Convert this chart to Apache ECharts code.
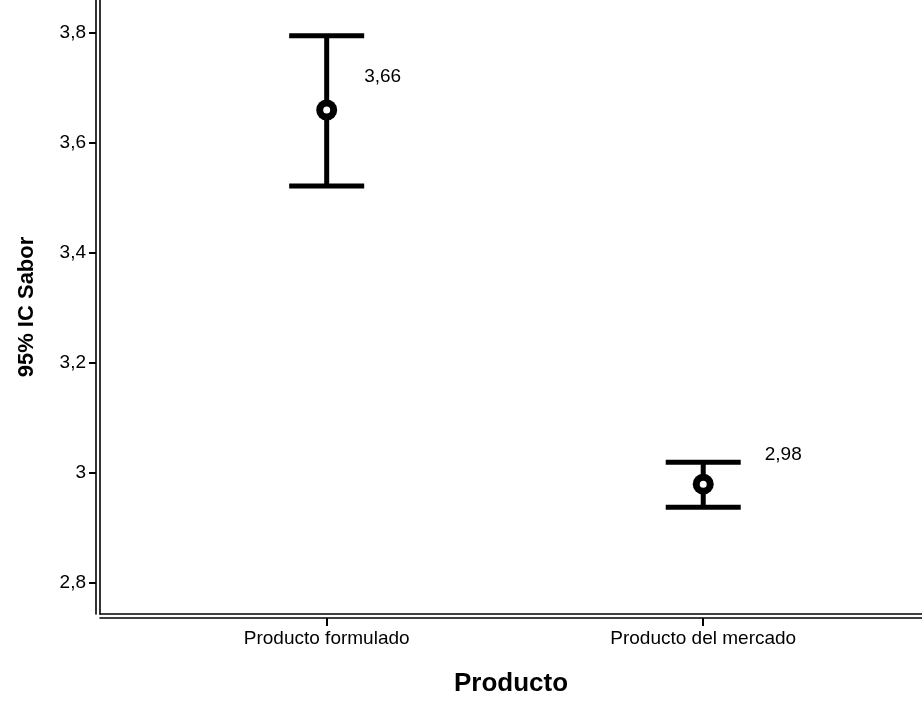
<!DOCTYPE html>
<html><head><meta charset="utf-8">
<script src="https://cdn.jsdelivr.net/npm/echarts@6/dist/echarts.min.js"></script>
<style>html,body{margin:0;padding:0;background:#fff}#c{width:922px;height:702px}</style>
</head><body><div id="c"></div>
<script>
var categories = ['Producto formulado', 'Producto del mercado'];
var means = [3.66, 2.98];
var upper = [3.795, 3.020];
var lower = [3.522, 2.938];
var yTicks = [2.8, 3.0, 3.2, 3.4, 3.6, 3.8];
var xPositions = [1, 2];

var labelOffsets = [[56, -33], [80, -29]];
function fmt(v, d) { return (d == null ? String(+v.toFixed(2)) : v.toFixed(d)).replace('.', ','); }

var font = '"Liberation Sans", Arial, sans-serif';
var X_MIN = 0.398, X_MAX = 2.581, Y_MIN = 2.744, Y_MAX = 3.86;
var chart = echarts.init(document.getElementById('c'), null, {renderer: 'canvas'});
var errData = xPositions.map(function (x, i) { return [x, lower[i], upper[i]]; });
var meanData = xPositions.map(function (x, i) {
  return {value: [x, means[i]], label: {offset: labelOffsets[i]}};
});
var lineOnly = {color: '#000', width: 1.6};
chart.setOption({
  animation: false,
  grid: {left: 100, right: 0, top: 0, bottom: 88},
  xAxis: [{
    type: 'value', min: X_MIN, max: X_MAX,
    axisLine: {lineStyle: lineOnly},
    axisTick: {show: false}, axisLabel: {show: false}, splitLine: {show: false},
    name: 'Producto', nameLocation: 'middle', nameGap: 57,
    nameTextStyle: {fontSize: 26, fontWeight: 'bold', color: '#000', fontFamily: font}
  }, {
    type: 'value', min: X_MIN, max: X_MAX, position: 'bottom', offset: 4,
    axisLine: {lineStyle: lineOnly},
    axisTick: {show: true, customValues: xPositions, length: 8, lineStyle: {color: '#000', width: 2}},
    axisLabel: {customValues: xPositions, color: '#000', fontSize: 19, fontFamily: font, margin: 11,
      formatter: function (v) { return categories[Math.round(v) - 1] || ''; }},
    splitLine: {show: false}
  }],
  yAxis: [{
    type: 'value', min: Y_MIN, max: Y_MAX,
    axisLine: {show: true, lineStyle: lineOnly},
    axisTick: {show: false}, axisLabel: {show: false}, splitLine: {show: false},
    name: '95% IC Sabor', nameLocation: 'middle', nameGap: 62,
    nameTextStyle: {fontSize: 22, fontWeight: 'bold', color: '#000', fontFamily: font}
  }, {
    type: 'value', min: Y_MIN, max: Y_MAX, position: 'left', offset: 4,
    axisLine: {show: true, lineStyle: lineOnly},
    axisTick: {show: true, customValues: yTicks, length: 7, lineStyle: {color: '#000', width: 2}},
    axisLabel: {customValues: yTicks, color: '#000', fontSize: 19, fontFamily: font, margin: 10,
      formatter: function (v) { return fmt(v); }},
    splitLine: {show: false}
  }],
  series: [
    {
      type: 'custom', data: errData, xAxisIndex: 0, yAxisIndex: 0,
      renderItem: function (params, api) {
        var x = api.value(0);
        var lo = api.coord([x, api.value(1)]);
        var hi = api.coord([x, api.value(2)]);
        var hw = 37.5;
        var st = {stroke: '#000', lineWidth: 5};
        return {type: 'group', children: [
          {type: 'line', shape: {x1: lo[0], y1: lo[1], x2: hi[0], y2: hi[1]}, style: {stroke: '#000', lineWidth: 5}},
          {type: 'line', shape: {x1: hi[0] - hw, y1: hi[1], x2: hi[0] + hw, y2: hi[1]}, style: st},
          {type: 'line', shape: {x1: lo[0] - hw, y1: lo[1], x2: lo[0] + hw, y2: lo[1]}, style: st}
        ]};
      }
    },
    {
      type: 'scatter', data: meanData, xAxisIndex: 0, yAxisIndex: 0, symbol: 'circle', symbolSize: 21,
      itemStyle: {color: '#000', opacity: 1},
      label: {show: true, position: 'inside', color: '#000', fontSize: 19, fontFamily: font,
        formatter: function (p) { return fmt(p.value[1], 2); }},
      z: 5
    },
    {
      type: 'scatter', data: meanData.map(function (d) { return d.value; }), xAxisIndex: 0, yAxisIndex: 0,
      symbol: 'emptyCircle', symbolSize: 9,
      itemStyle: {color: '#000', borderColor: '#fff', borderWidth: 1.8, opacity: 1},
      silent: true, z: 6
    }
  ]
});
</script></body></html>
